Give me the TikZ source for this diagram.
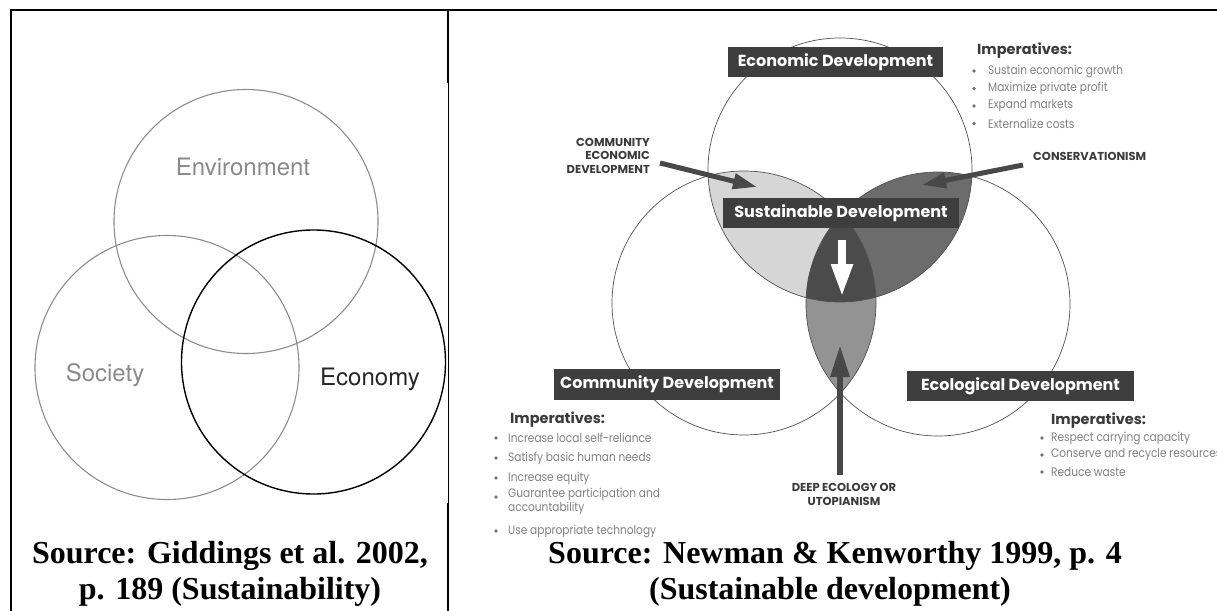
\documentclass[tikz,border=0pt]{standalone}
\usepackage{fontspec}
\setmainfont{Liberation Serif}
\newfontfamily\helv{TeX Gyre Heros}
\newfontfamily\fut{Poppins}
\newfontfamily\futn[FakeStretch=0.86]{Poppins}
\usetikzlibrary{arrows.meta}
\definecolor{venngray}{HTML}{8A8A8A}
\definecolor{vennline}{HTML}{8C8C8C}
\definecolor{boxgray}{HTML}{3E3E3E}
\definecolor{regA}{HTML}{D6D6D6}
\definecolor{regB}{HTML}{6C6C6C}
\definecolor{regC}{HTML}{939393}
\definecolor{regD}{HTML}{4B4B4B}
\definecolor{circline}{HTML}{505050}
\definecolor{arrowgray}{HTML}{484848}
\definecolor{listgray}{HTML}{808080}
\definecolor{headgray}{HTML}{3A3A3A}
\tikzset{
  border/.style={line width=2pt, black},
  vennlbl/.style={inner sep=0pt, anchor=base, font=\helv\fontsize{24}{28}\selectfont},
  caption/.style={inner sep=0pt, anchor=base, font=\bfseries\fontsize{32}{36}\selectfont},
  devbox/.style={fill=boxgray, text=white, inner sep=0pt, font=\fut\bfseries\fontsize{16}{18}\selectfont},
  capslbl/.style={inner sep=0pt, text=headgray, font=\fut\bfseries\fontsize{11.5}{13.5}\selectfont},
  imphead/.style={inner sep=0pt, anchor=west, text=headgray, font=\fut\bfseries\fontsize{14.5}{16}\selectfont},
  impitem/.style={inner sep=0pt, anchor=west, text=listgray, font=\futn\fontsize{12.3}{9.5}\selectfont, align=left},
  bul/.style={fill=listgray!90!black, circle, inner sep=0pt, minimum size=3.6pt},
  darkarrow/.style={draw=arrowgray, line width=5pt, -{Triangle[length=24pt,width=15pt]}},
}
\def\pEcon{(840,170) circle[radius=132]}
\def\pComm{(744,303) circle[radius=132]}
\def\pEco{(938,304) circle[radius=132]}
\begin{document}
\begin{tikzpicture}[x=1pt,y=-1pt]
\useasboundingbox (0,0) rectangle (1217,610);
\clip (0,0) rectangle (1217,610);
% frame
\draw[border] (11,612) -- (11,10) -- (1219,10);
\draw[border] (448,10) -- (448,83);
\draw[line width=0.8pt] (448,83) -- (448,503);
\draw[border] (448,503) -- (448,612);
% left Venn
\draw[vennline, line width=1.1pt] (246,221.5) circle[radius=132];
\draw[vennline, line width=1.1pt] (167,367.5) circle[radius=132];
\draw[black, line width=1.4pt] (313.5,362) circle[radius=132];
\node[vennlbl, text=venngray] (env) at (243,175) {Environment};
\node[vennlbl, text=venngray] (soc) at (105,381) {Society};
\node[vennlbl, text=black!85] (ecn) at (370,385) {Economy};
\node[caption] (capL1) at (230,563) {Source: Giddings et al. 2002,};
\node[caption] (capL2) at (230,599) {p. 189 (Sustainability)};
% right diagram regions
\begin{scope} \clip \pEcon; \fill[regA] \pComm; \end{scope}
\begin{scope} \clip \pEcon; \fill[regB] \pEco; \end{scope}
\begin{scope} \clip \pComm; \fill[regC] \pEco; \end{scope}
\begin{scope} \clip \pEcon; \clip \pComm; \fill[regD] \pEco; \end{scope}
\draw[circline, line width=0.7pt] \pEcon;
\draw[circline, line width=0.7pt] \pComm;
\draw[circline, line width=0.7pt] \pEco;
% boxes
\node[devbox, minimum width=215pt, minimum height=30pt] (econbox) at (835.5,62) {Economic Development};
\node[devbox, minimum width=236pt, minimum height=30pt] (sustbox) at (841,213) {Sustainable Development};
\node[devbox, minimum width=226pt, minimum height=31pt] (commbox) at (667,384.5) {Community Development};
\node[devbox, minimum width=227pt, minimum height=30pt] (ecolbox) at (1020.5,386) {Ecological Development};
% arrows
\coordinate (ceA) at (660,163);
\coordinate (ceB) at (757,187);
\coordinate (cvA) at (1023,165);
\coordinate (cvB) at (922,185);
\coordinate (wA) at (842,240);
\coordinate (wB) at (842,297);
\coordinate (deA) at (840,475);
\coordinate (deB) at (840,345);
\draw[darkarrow] (ceA) -- (ceB);
\draw[darkarrow] (cvA) -- (cvB);
\draw[white, line width=8pt, -{Triangle[length=33pt,width=20pt]}] (wA) -- (wB);
\draw[draw=arrowgray, line width=6pt, -{Triangle[length=32pt,width=18pt]}] (deA) -- (deB);
% caps labels
\node[capslbl, align=right, anchor=east] (ced) at (650,155.5) {COMMUNITY\\ECONOMIC\\DEVELOPMENT};
\node[capslbl, anchor=west] (cons) at (1033,156) {CONSERVATIONISM};
\node[capslbl, align=center] (deep) at (844,494.5) {DEEP ECOLOGY OR\\UTOPIANISM};
% economic imperatives
\node[imphead] (eh) at (977,51) {Imperatives:};
\foreach \y/\t [count=\i] in {71/Sustain economic growth, 88.5/Maximize private profit, 106/Expand markets, 123.5/Externalize costs}{
  \node[bul] (eb\i) at (974,\y) {};
  \node[impitem] (ei\i) at (988,\y) {\t};
}
% community imperatives
\node[imphead] (ch) at (510,420) {Imperatives:};
\foreach \y/\t [count=\i] in {438/Increase local self-reliance, 458/Satisfy basic human needs, 478/Increase equity, 531/Use appropriate technology}{
  \node[bul] (cb\i) at (496,\y) {};
  \node[impitem] (ci\i) at (508,\y) {\t};
}
\node[bul] (cb5) at (496,497) {};
\node[impitem] (ci5) at (508,501.5) {Guarantee participation and\\accountability};
% ecological imperatives
\node[imphead] (gh) at (1051,421) {Imperatives:};
\foreach \y/\t [count=\i] in {438/Respect carrying capacity, 455/Conserve and recycle resources, 472/Reduce waste}{
  \node[bul] (gb\i) at (1042,\y) {};
  \node[impitem] (gi\i) at (1051,\y) {\t};
}
\node[caption] (capR1) at (835,563) {Source: Newman \& Kenworthy 1999, p. 4};
\node[caption] (capR2) at (830,599) {(Sustainable development)};
\end{tikzpicture}
\end{document}
